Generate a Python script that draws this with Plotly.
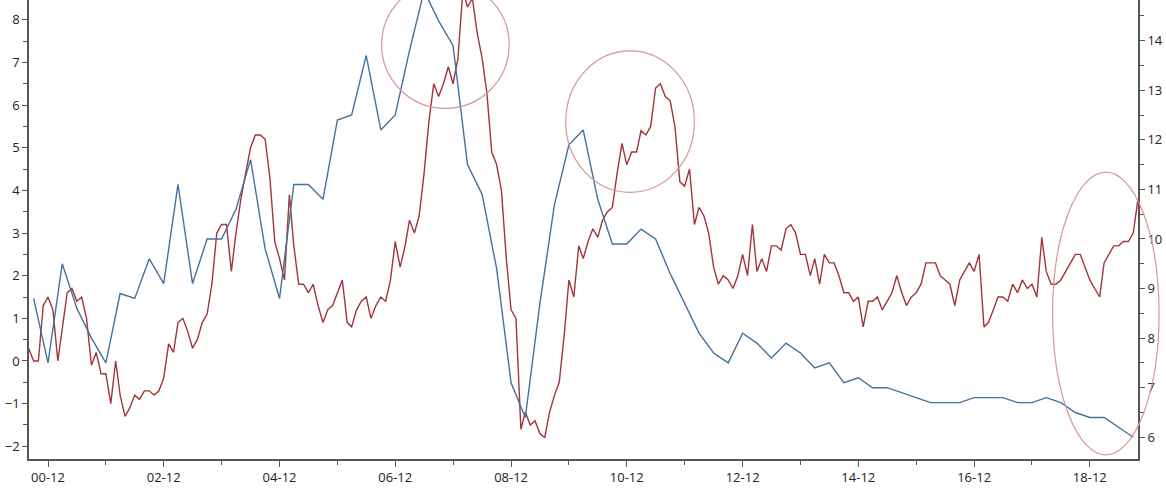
import pandas as pd
import plotly.graph_objects as go

# Monthly series (left axis), starting 2000-08
red_start = "2000-08-01"
red_values = [
    0.3, 0.0, 0.0, 1.3, 1.5,                                            # 2000 Aug-Dec
    1.2, 0.0, 0.8, 1.6, 1.7, 1.4, 1.5, 1.0, -0.1, 0.2, -0.3, -0.3,     # 2001
    -1.0, 0.0, -0.8, -1.3, -1.1, -0.8, -0.9, -0.7, -0.7, -0.8, -0.7, -0.4,  # 2002
    0.4, 0.2, 0.9, 1.0, 0.7, 0.3, 0.5, 0.9, 1.1, 1.8, 3.0, 3.2,        # 2003
    3.2, 2.1, 3.0, 3.8, 4.4, 5.0, 5.3, 5.3, 5.2, 4.3, 2.8, 2.4,        # 2004
    1.9, 3.9, 2.7, 1.8, 1.8, 1.6, 1.8, 1.3, 0.9, 1.2, 1.3, 1.6,        # 2005
    1.9, 0.9, 0.8, 1.2, 1.4, 1.5, 1.0, 1.3, 1.5, 1.4, 1.9, 2.8,        # 2006
    2.2, 2.7, 3.3, 3.0, 3.4, 4.4, 5.6, 6.5, 6.2, 6.5, 6.9, 6.5,        # 2007
    7.1, 8.7, 8.3, 8.5, 7.7, 7.1, 6.3, 4.9, 4.6, 4.0, 2.4, 1.2,        # 2008
    1.0, -1.6, -1.2, -1.5, -1.4, -1.7, -1.8, -1.2, -0.8, -0.5, 0.6, 1.9,  # 2009
    1.5, 2.7, 2.4, 2.8, 3.1, 2.9, 3.3, 3.5, 3.6, 4.4, 5.1, 4.6,        # 2010
    4.9, 4.9, 5.4, 5.3, 5.5, 6.4, 6.5, 6.2, 6.1, 5.5, 4.2, 4.1,        # 2011
    4.5, 3.2, 3.6, 3.4, 3.0, 2.2, 1.8, 2.0, 1.9, 1.7, 2.0, 2.5,        # 2012
    2.0, 3.2, 2.1, 2.4, 2.1, 2.7, 2.7, 2.6, 3.1, 3.2, 3.0, 2.5,        # 2013
    2.5, 2.0, 2.4, 1.8, 2.5, 2.3, 2.3, 2.0, 1.6, 1.6, 1.4, 1.5,        # 2014
    0.8, 1.4, 1.4, 1.5, 1.2, 1.4, 1.6, 2.0, 1.6, 1.3, 1.5, 1.6,        # 2015
    1.8, 2.3, 2.3, 2.3, 2.0, 1.9, 1.8, 1.3, 1.9, 2.1, 2.3, 2.1,        # 2016
    2.5, 0.8, 0.9, 1.2, 1.5, 1.5, 1.4, 1.8, 1.6, 1.9, 1.7, 1.8,        # 2017
    1.5, 2.9, 2.1, 1.8, 1.8, 1.9, 2.1, 2.3, 2.5, 2.5, 2.2, 1.9,        # 2018
    1.7, 1.5, 2.3, 2.5, 2.7, 2.7, 2.8, 2.8, 3.0, 3.8,                  # 2019 Jan-Oct
]

# Quarterly series (right axis), starting 2000-09
blue_start = "2000-09-01"
blue_values = [
    8.8, 7.5,                      # 2000 Q3-Q4
    9.5, 8.6, 8.0, 7.5,            # 2001
    8.9, 8.8, 9.6, 9.1,            # 2002
    11.1, 9.1, 10.0, 10.0,         # 2003
    10.6, 11.6, 9.8, 8.8,          # 2004
    11.1, 11.1, 10.8, 12.4,        # 2005
    12.5, 13.7, 12.2, 12.5,        # 2006
    13.8, 15.0, 14.4, 13.9,        # 2007
    11.5, 10.9, 9.4, 7.1,          # 2008
    6.4, 8.7, 10.7, 11.9,          # 2009
    12.2, 10.8, 9.9, 9.9,          # 2010
    10.2, 10.0, 9.3, 8.7,          # 2011
    8.1, 7.7, 7.5, 8.1,            # 2012
    7.9, 7.6, 7.9, 7.7,            # 2013
    7.4, 7.5, 7.1, 7.2,            # 2014
    7.0, 7.0, 6.9, 6.8,            # 2015
    6.7, 6.7, 6.7, 6.8,            # 2016
    6.8, 6.8, 6.7, 6.7,            # 2017
    6.8, 6.7, 6.5, 6.4,            # 2018
    6.4, 6.2, 6.0,                 # 2019 Q1-Q3
]

red_dates = pd.date_range(red_start, periods=len(red_values), freq="MS")
blue_dates = pd.date_range(blue_start, periods=len(blue_values), freq="3MS")

RED = "#a3343a"
BLUE = "#44729f"
AXIS = "#555555"
ELLIPSE = "#d69696"
FONT = dict(family="Open Sans, Noto Sans, sans-serif", size=13, color="#222222")

fig = go.Figure()
fig.add_trace(go.Scatter(x=blue_dates, y=blue_values, mode="lines", yaxis="y2",
                         line=dict(color=BLUE, width=1.4), name="blue"))
fig.add_trace(go.Scatter(x=red_dates, y=red_values, mode="lines", yaxis="y",
                         line=dict(color=RED, width=1.4), name="red"))

# highlight ellipses (paper coordinates)
ellipses = [
    (0.318, 0.764, 0.433, 1.041),
    (0.484, 0.581, 0.600, 0.889),
    (0.923, 0.009, 1.019, 0.625),
]
for x0, y0, x1, y1 in ellipses:
    fig.add_shape(type="circle", xref="paper", yref="paper",
                  x0=x0, y0=y0, x1=x1, y1=y1,
                  line=dict(color=ELLIPSE, width=1.2), layer="above")

axis_common = dict(showline=True, linecolor=AXIS, linewidth=1.6, ticks="outside",
                   tickcolor=AXIS, tickwidth=1.2, showgrid=False, zeroline=False,
                   tickfont=FONT, automargin=False)

fig.update_layout(
    width=1166, height=495,
    margin=dict(l=29, r=28, t=0, b=36, autoexpand=False),
    plot_bgcolor="white", paper_bgcolor="white",
    showlegend=False,
    xaxis=dict(type="date", range=["2000-08-03", "2019-10-01"],
               tickformat="%y-%m", tick0="2000-12-01", dtick="M24", ticklen=6,
               minor=dict(ticks="outside", ticklen=4, dtick="M12", tick0="2000-12-01",
                          tickcolor=AXIS, showgrid=False),
               **axis_common),
    yaxis=dict(range=[-2.298, 8.464], tick0=0, dtick=1, ticklen=5,
               minor=dict(ticks="outside", ticklen=4, dtick=0.5, tickcolor=AXIS, showgrid=False),
               **axis_common),
    yaxis2=dict(range=[5.562, 14.82], tick0=0, dtick=1, ticklen=5, overlaying="y", side="right",
                minor=dict(ticks="outside", ticklen=4, dtick=0.5, tickcolor=AXIS, showgrid=False),
                **axis_common),
)

fig.write_html("out.html",
               config={"displayModeBar": False},
               post_script="document.body.style.margin='0';document.body.style.overflow='hidden';")
